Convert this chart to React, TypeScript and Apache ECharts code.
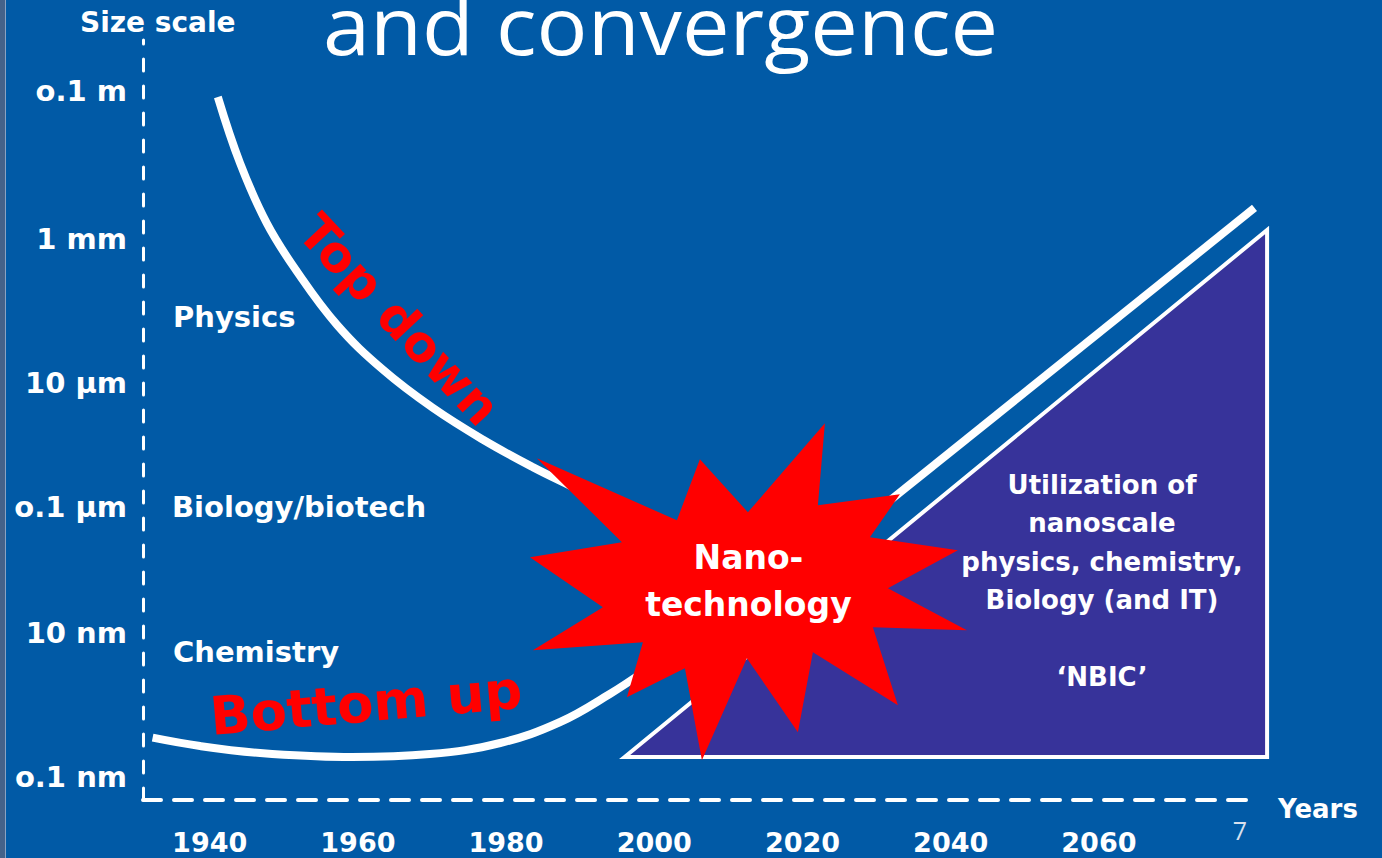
import React, { useEffect, useRef } from 'react';
import * as echarts from 'echarts';

// ---- axes ----
const yearMin = 1931;
const yearMax = 2081;
const yearTicks = [1940, 1960, 1980, 2000, 2020, 2040, 2060];
// size scale drawn on a non-proportional "level" axis (0..100) as in the slide
const sizeLevels = [3.03, 21.97, 38.55, 54.87, 73.82, 93.29];
const sizeLabels = ['o.1 nm', '10 nm', 'o.1 µm', '10 µm', '1 mm', 'o.1 m'];

// ---- curves [year, level] ----
const topDown = [
  [1941.1, 92.5], [1944.1, 83.8], [1947.7, 75.9], [1951.8, 69.5], [1957.2, 62.5],
  [1963.4, 56.6], [1970.1, 51.6], [1976.9, 47.4], [1983.6, 43.8], [1989.6, 40.9],
  [1995.4, 38.0],
];
const bottomUp = [
  [1932.3, 8.2], [1938.7, 7.1], [1946.8, 6.18], [1958.1, 5.66], [1969.7, 6.05],
  [1979.2, 7.5], [1987.3, 10.26], [1994.0, 13.95], [1998.7, 16.97],
];
const convergence = [[2011.6, 23.6], [2081, 77.9]];
const nbicTriangle = [[1996.0, 5.66], [2082.7, 75.0], [2082.7, 5.66]];
const nanoCenter = [[2012.7, 27.4]];

const starPath =
  'path://M7 35L147 97L170 36L218 89L295 0L288 82L370 71L340 114L428 127L358 165L437 207L343 204L368 282L283 229L268 309L217 235L172 337L155 245L97 274L113 219L3 227L73 184L0 134L92 119Z';

const BG = '#015aa6';
const LABEL_FONT = '"DejaVu Sans", sans-serif';

function txt(
  text: string,
  x: number,
  y: number,
  opts: { size: number; weight?: string; color?: string; align?: string; family?: string; rotation?: number; scaleX?: number; lineHeight?: number }
) {
  const align = opts.align || 'left';
  return {
    type: 'text',
    x,
    y,
    z: 100,
    rotation: opts.rotation || 0,
    scaleX: opts.scaleX || 1,
    silent: true,
    style: {
      text,
      x: 0,
      y: 0,
      fill: opts.color || '#ffffff',
      fontSize: opts.size,
      fontWeight: opts.weight || 'bold',
      fontFamily: opts.family || LABEL_FONT,
      lineHeight: opts.lineHeight,
      align,
      verticalAlign: 'middle',
      textAlign: align,
      textVerticalAlign: 'middle',
    },
  };
}

function curveSeries(points: number[][], smooth: number) {
  return {
    type: 'custom',
    z: 2,
    silent: true,
    clip: false,
    data: [[2000, 50]],
    renderItem: (_params: any, api: any) => ({
      type: 'polyline',
      shape: { points: points.map((p) => api.coord(p)), smooth },
      style: { stroke: '#ffffff', lineWidth: 8, fill: null, lineCap: 'butt', lineJoin: 'round' },
    }),
  };
}

export default function App() {
  const ref = useRef<HTMLDivElement>(null);
  useEffect(() => {
    const chart = echarts.init(ref.current!, null, { renderer: 'svg' });
    chart.setOption({
      animation: false,
      backgroundColor: BG,
      grid: { left: 143, right: 127.5, top: 40, bottom: 58, containLabel: false },
      xAxis: {
        type: 'value',
        min: yearMin,
        max: yearMax,
        axisLine: { show: true, lineStyle: { color: '#ffffff', width: 4, type: [18, 13] } },
        axisTick: { show: false },
        splitLine: { show: false },
        axisLabel: {
          customValues: yearTicks,
          formatter: (v: number) => String(v),
          color: '#ffffff',
          fontFamily: LABEL_FONT,
          fontWeight: 'bold',
          fontSize: 27,
          lineHeight: 27,
          margin: 29,
        },
      },
      yAxis: {
        type: 'value',
        min: 0,
        max: 100,
        axisLine: { show: true, lineStyle: { color: '#ffffff', width: 3, type: [12, 15] } },
        axisTick: { show: false },
        splitLine: { show: false },
        axisLabel: {
          customValues: sizeLevels,
          formatter: (v: number) => {
            let best = 0;
            sizeLevels.forEach((l, i) => {
              if (Math.abs(l - v) < Math.abs(sizeLevels[best] - v)) best = i;
            });
            return sizeLabels[best];
          },
          color: '#ffffff',
          fontFamily: LABEL_FONT,
          fontWeight: 'bold',
          fontSize: 29,
          margin: 16,
        },
      },
      series: [
        {
          type: 'custom',
          z: 1,
          silent: true,
          clip: false,
          data: [[2040, 40]],
          renderItem: (_params: any, api: any) => ({
            type: 'polygon',
            shape: { points: nbicTriangle.map((p) => api.coord(p)) },
            style: { fill: '#37339a', stroke: '#ffffff', lineWidth: 4, lineJoin: 'miter' },
          }),
        },
        curveSeries(topDown, 0.4),
        curveSeries(bottomUp, 0.4),
        curveSeries(convergence, 0),
        {
          type: 'scatter',
          z: 3,
          data: nanoCenter,
          symbol: starPath,
          symbolSize: [437, 337],
          symbolKeepAspect: false,
          silent: true,
          itemStyle: { color: '#ff0000', opacity: 1 },
          label: {
            show: true,
            position: 'inside',
            formatter: 'Nano-\ntechnology',
            color: '#ffffff',
            fontFamily: LABEL_FONT,
            fontWeight: 'bold',
            fontSize: 33,
            lineHeight: 47,
            offset: [0, -11],
          },
        },
      ],
      graphic: [
        { type: 'rect', z: 100, silent: true, shape: { x: 0, y: 0, width: 5, height: 858 }, style: { fill: '#44628a' } },
        { type: 'rect', z: 100, silent: true, shape: { x: 5, y: 0, width: 1, height: 858 }, style: { fill: '#8aa2c2' } },
        txt('and convergence', 323, 24, { size: 80, weight: 'normal', family: '"Open Sans", sans-serif', scaleX: 1.06 }),
        txt('Size scale', 80, 22, { size: 28 }),
        txt('Years', 1278, 809, { size: 26 }),
        txt('7', 1240, 830, { size: 25, weight: 'normal', family: '"Open Sans", sans-serif', color: '#d8e0ee', align: 'center' }),
        txt('Physics', 173, 317, { size: 29 }),
        txt('Biology/biotech', 172, 507, { size: 29 }),
        txt('Chemistry', 173, 652, { size: 29 }),
        txt('Top down', 399, 320, { size: 50, color: '#ff0000', align: 'center', rotation: (-46.8 * Math.PI) / 180 }),
        txt('Bottom up', 366, 703, { size: 53, color: '#ff0000', align: 'center', rotation: (5 * Math.PI) / 180 }),
        txt('Utilization of\nnanoscale\nphysics, chemistry,\nBiology (and IT)\n\n‘NBIC’', 1102, 581, {
          size: 26,
          align: 'center',
          lineHeight: 38.5,
        }),
      ],
    });
    return () => chart.dispose();
  }, []);
  return <div ref={ref} style={{ position: 'fixed', left: 0, top: 0, width: 1382, height: 858 }} />;
}
